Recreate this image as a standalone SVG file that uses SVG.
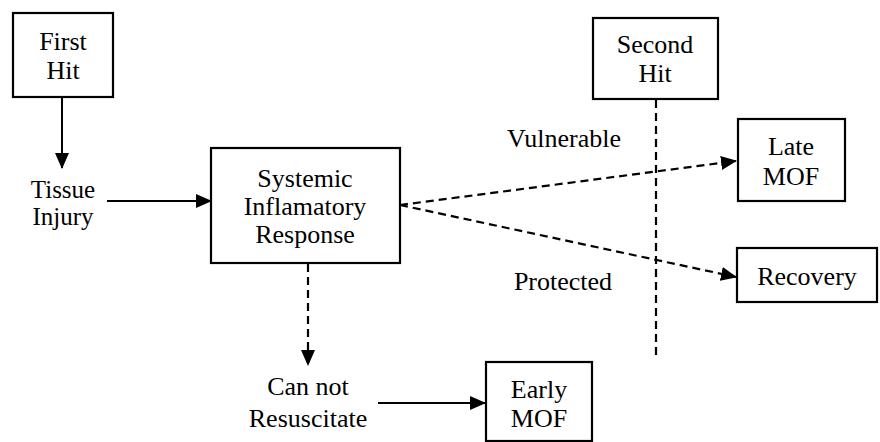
<svg xmlns="http://www.w3.org/2000/svg" width="880" height="442" viewBox="0 0 880 442">
<defs>
<marker id="ah" markerUnits="userSpaceOnUse" markerWidth="16" markerHeight="16" viewBox="0 0 16 16" refX="15" refY="8" orient="auto">
<path d="M0,1 L16,8 L0,15 Z" fill="#000"/>
</marker>
</defs>
<rect width="880" height="442" fill="#fff"/>
<g id="connectors" stroke="#000" fill="none">
<line stroke-width="2" x1="62" y1="97" x2="62" y2="168" marker-end="url(#ah)"/>
<line stroke-width="2" x1="107" y1="201" x2="211" y2="201" marker-end="url(#ah)"/>
<line stroke-width="2.2" stroke-dasharray="8 5" x1="400" y1="205" x2="736" y2="161" marker-end="url(#ah)"/>
<line stroke-width="2.2" stroke-dasharray="8 5" x1="400" y1="205" x2="736" y2="277" marker-end="url(#ah)"/>
<line stroke-width="2.2" stroke-dasharray="8 5" x1="656" y1="100" x2="656" y2="358"/>
<line stroke-width="2.2" stroke-dasharray="8 5" x1="308" y1="264" x2="308" y2="365" marker-end="url(#ah)"/>
<line stroke-width="2" x1="378" y1="403" x2="485" y2="403" marker-end="url(#ah)"/>
</g>
<g id="first-hit">
<rect x="13" y="13" width="100" height="84" fill="#fff" stroke="#000" stroke-width="2.2"/>
<text x="63" y="50" font-family="Liberation Serif" font-size="26" text-anchor="middle">First</text>
<text x="63" y="79" font-family="Liberation Serif" font-size="26" text-anchor="middle">Hit</text>
</g>
<g id="tissue-injury">
<text x="63" y="198" font-family="Liberation Serif" font-size="25" text-anchor="middle">Tissue</text>
<text x="63" y="225" font-family="Liberation Serif" font-size="25" text-anchor="middle">Injury</text>
</g>
<g id="systemic">
<rect x="211" y="148" width="189" height="115" fill="#fff" stroke="#000" stroke-width="2.2"/>
<text x="305" y="187" font-family="Liberation Serif" font-size="26" text-anchor="middle">Systemic</text>
<text x="305" y="215" font-family="Liberation Serif" font-size="26" text-anchor="middle">Inflamatory</text>
<text x="305" y="243" font-family="Liberation Serif" font-size="26" text-anchor="middle">Response</text>
</g>
<g id="second-hit">
<rect x="593" y="18" width="125" height="81" fill="#fff" stroke="#000" stroke-width="2.2"/>
<text x="655" y="53" font-family="Liberation Serif" font-size="26" text-anchor="middle">Second</text>
<text x="655" y="82" font-family="Liberation Serif" font-size="26" text-anchor="middle">Hit</text>
</g>
<g id="late-mof">
<rect x="738" y="119" width="107" height="82" fill="#fff" stroke="#000" stroke-width="2.2"/>
<text x="791" y="155" font-family="Liberation Serif" font-size="26" text-anchor="middle">Late</text>
<text x="791" y="185" font-family="Liberation Serif" font-size="26" text-anchor="middle">MOF</text>
</g>
<g id="recovery">
<rect x="737" y="248" width="140" height="54" fill="#fff" stroke="#000" stroke-width="2.2"/>
<text x="807" y="285" font-family="Liberation Serif" font-size="26" text-anchor="middle">Recovery</text>
</g>
<g id="labels">
<text x="564" y="147" font-family="Liberation Serif" font-size="26" text-anchor="middle">Vulnerable</text>
<text x="563" y="290" font-family="Liberation Serif" font-size="26" text-anchor="middle">Protected</text>
</g>
<g id="can-not">
<text x="308" y="395" font-family="Liberation Serif" font-size="26" text-anchor="middle">Can not</text>
<text x="308" y="427" font-family="Liberation Serif" font-size="26" text-anchor="middle">Resuscitate</text>
</g>
<g id="early-mof">
<rect x="486" y="362" width="106" height="79" fill="#fff" stroke="#000" stroke-width="2.2"/>
<text x="539" y="398" font-family="Liberation Serif" font-size="26" text-anchor="middle">Early</text>
<text x="539" y="427" font-family="Liberation Serif" font-size="26" text-anchor="middle">MOF</text>
</g>
</svg>
